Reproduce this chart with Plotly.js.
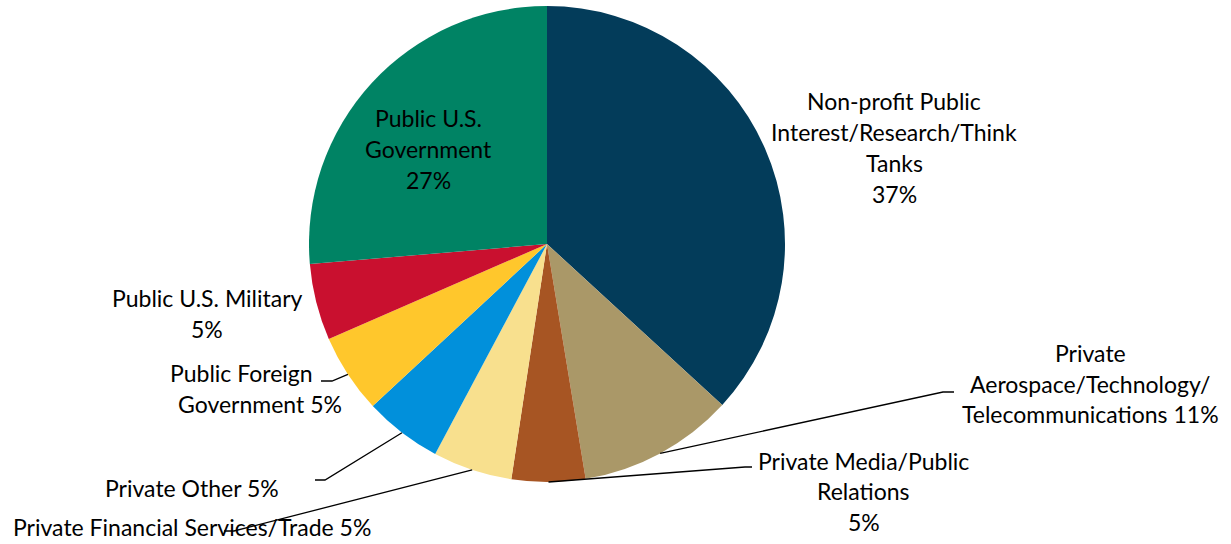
<!DOCTYPE html>
<html>
<head>
<meta charset="utf-8">
<script src="https://cdn.plot.ly/plotly-3.0.1.min.js"></script>
<style>html,body{margin:0;padding:0;background:#fff;} #chart{width:1231px;height:544px;}</style>
</head>
<body>
<div id="chart"></div>
<script>
const categories = [
  "Non-profit Public Interest/Research/Think Tanks",
  "Private Aerospace/Technology/Telecommunications",
  "Private Media/Public Relations",
  "Private Financial Services/Trade",
  "Private Other",
  "Public Foreign Government",
  "Public U.S. Military",
  "Public U.S. Government"
];
const values = [36.9, 10.6, 5.0, 5.4, 5.3, 5.4, 5.2, 26.4];
const pctLabels = ["37%", "11%", "5%", "5%", "5%", "5%", "5%", "27%"];
const labelLines = [
  ["Non-profit Public", "Interest/Research/Think", "Tanks", pctLabels[0]],
  ["Private", "Aerospace/Technology/", "Telecommunications " + pctLabels[1]],
  ["Private Media/Public", "Relations", pctLabels[2]],
  ["Private Financial Services/Trade " + pctLabels[3]],
  ["Private Other " + pctLabels[4]],
  ["Public Foreign", "Government " + pctLabels[5]],
  ["Public U.S. Military", pctLabels[6]],
  ["Public U.S.", "Government", pctLabels[7]]
];
const colors = ["#033C5A", "#AA9868", "#A75523", "#F8E08E", "#0190DB", "#FFC72C", "#C9102F", "#008364"];

// layout geometry (pixels)
const W = 1231, H = 544;
const CX = 547, CY = 244, R = 238;
const labelPos = [
  {x: [894], y: [101, 132, 163, 194]},
  {x: [1090], y: [353, 384, 414]},
  {x: [864], y: [461, 491, 522]},
  {x: [192], y: [527]},
  {x: [192], y: [488]},
  {x: [241, 260], y: [373, 404]},
  {x: [207], y: [298, 329]},
  {x: [428], y: [118, 149, 180]}
];
// leader line elbow/end points (pixels), null = no leader
const leaders = [
  null,
  {elbow: [943, 392], end: [954, 392]},
  {elbow: [745, 467], end: [752, 467]},
  {elbow: [234, 531], end: [224, 531]},
  {elbow: [325, 480], end: [315, 480]},
  {elbow: [332, 381], end: [321, 381]},
  null,
  null
];

const px = x => x / W;
const py = y => 1 - y / H;

const total = values.reduce((a, b) => a + b, 0);
let cum = 0;
const annotations = [];
const shapes = [];
values.forEach((v, i) => {
  const mid = (cum + v / 2) / total * 2 * Math.PI;
  cum += v;
  const pos = labelPos[i];
  labelLines[i].forEach((t, j) => {
    annotations.push({
      xref: 'paper', yref: 'paper',
      x: px(pos.x[Math.min(j, pos.x.length - 1)]), y: py(pos.y[j]),
      xanchor: 'center', yanchor: 'middle',
      text: t, showarrow: false,
      font: {family: 'Lato, "Open Sans", sans-serif', size: 23, color: '#000'}
    });
  });
  const L = leaders[i];
  if (L) {
    const sx = CX + R * Math.sin(mid);
    const sy = CY - R * Math.cos(mid);
    shapes.push({
      type: 'path', xref: 'paper', yref: 'paper',
      path: `M ${px(sx)} ${py(sy)} L ${px(L.elbow[0])} ${py(L.elbow[1])} L ${px(L.end[0])} ${py(L.end[1])}`,
      line: {color: '#000', width: 1.3}
    });
  }
});

const trace = {
  type: 'pie',
  labels: categories,
  values: values,
  sort: false,
  direction: 'clockwise',
  rotation: 0,
  marker: {colors: colors, line: {width: 0}},
  textinfo: 'none',
  hoverinfo: 'label+percent',
  domain: {x: [(CX - R) / W, (CX + R) / W], y: [(H - CY - R) / H, (H - CY + R) / H]},
  showlegend: false
};

Plotly.newPlot('chart', [trace], {
  width: W, height: H,
  margin: {l: 0, r: 0, t: 0, b: 0},
  paper_bgcolor: '#fff',
  showlegend: false,
  annotations: annotations,
  shapes: shapes
}, {displayModeBar: false, staticPlot: true});
</script>
</body>
</html>
